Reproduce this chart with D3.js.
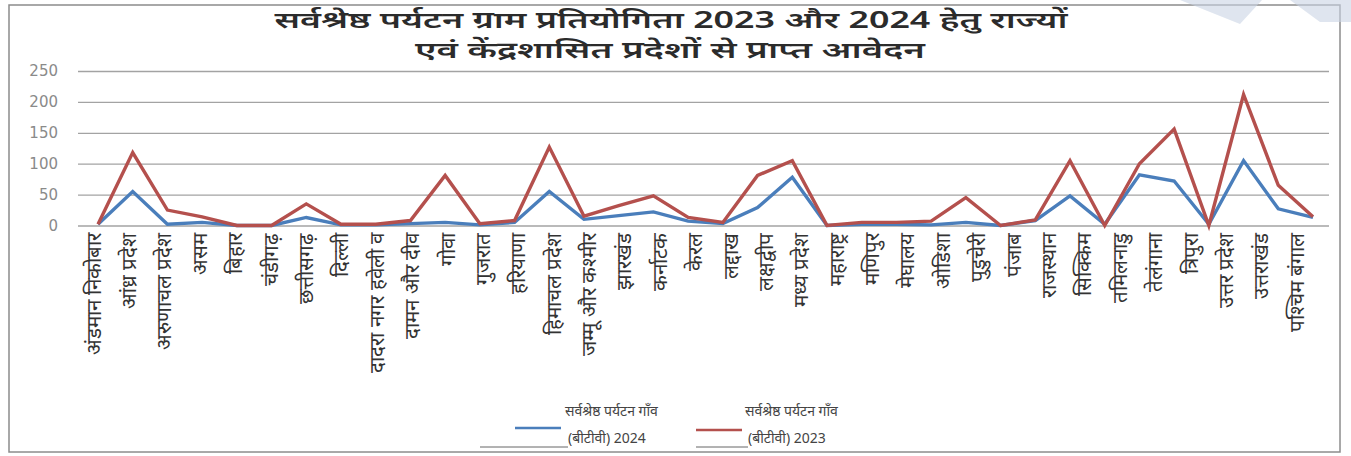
<!DOCTYPE html>
<html>
<head>
<meta charset="utf-8">
<script src="https://cdn.jsdelivr.net/npm/d3@7"></script>
<style>
  body { margin: 0; background: #fff; }
  svg { display: block; font-family: 'Noto Sans', 'Noto Sans Devanagari', 'DejaVu Sans', sans-serif; }
  .y.axis text { fill: #8a8a8a; font-size: 15px; font-family: 'DejaVu Sans', sans-serif; }
  .y.axis line { stroke: #a3a3a3; stroke-width: 1.3; }
  .x.axis text { fill: #333; font-size: 20.5px; }
</style>
</head>
<body>
<div id="graphic"></div>
<script>
// labels as printed under the axis (35 of them)
const states = [
  "अंडमान निकोबार", "आंध्र प्रदेश", "अरुणाचल प्रदेश", "असम", "बिहार", "चंडीगढ़",
  "छत्तीसगढ़", "दिल्ली", "दादरा नगर हवेली व", "दामन और दीव", "गोवा", "गुजरात",
  "हरियाणा", "हिमाचल प्रदेश", "जम्मू और कश्मीर", "झारखंड", "कर्नाटक", "केरल",
  "लद्दाख", "लक्षद्वीप", "मध्य प्रदेश", "महाराष्ट्र", "मणिपुर", "मेघालय",
  "ओडिशा", "पुडुचेरी", "पंजाब", "राजस्थान", "सिक्किम", "तमिलनाडु",
  "तेलंगाना", "त्रिपुरा", "उत्तर प्रदेश", "उत्तराखंड", "पश्चिम बंगाल"
];

// the plotted lines have 36 points
const values2024 = [2, 55, 2, 5, 0, 0, 13, 1, 1, 3, 5, 1, 5, 55, 10, 16, 22, 7, 3, 29, 78, 0,
  2, 2, 1, 5, 0, 8, 48, 2, 82, 72, 2, 105, 27, 13];
const values2023 = [2, 118, 25, 14, 0, 0, 35, 2, 2, 8, 81, 3, 8, 127, 15, 32, 48, 13, 5, 81, 105, 0,
  5, 5, 7, 45, 0, 9, 105, 0, 100, 156, 0, 212, 65, 14];

const yTicks = [0, 50, 100, 150, 200, 250];
const titleLines = [
  "सर्वश्रेष्ठ पर्यटन ग्राम प्रतियोगिता 2023 और 2024 हेतु राज्यों",
  "एवं केंद्रशासित प्रदेशों से प्राप्त आवेदन"
];
const seriesNames = [
  ["सर्वश्रेष्ठ पर्यटन गाँव", "(बीटीवी) 2024"],
  ["सर्वश्रेष्ठ पर्यटन गाँव", "(बीटीवी) 2023"]
];

const width = 1351, height = 456;
const colours = ["#4a7ebb", "#b4504d"];

let svg = d3.select('#graphic').append('svg')
  .attr('width', width)
  .attr('height', height);

// frame
svg.append('rect')
  .attr('x', 9).attr('y', 5)
  .attr('width', 1331).attr('height', 447)
  .attr('fill', 'none')
  .attr('stroke', '#8c8c8c')
  .attr('stroke-width', 1.5);

// faint watermark shape top right
svg.append('path')
  .attr('d', 'M1180,0 L1262,0 L1240,24 Z M1290,0 L1351,0 L1351,22 L1320,22 Z')
  .attr('fill', '#c9d3e4')
  .attr('opacity', 0.6);

const plotLeft = 78, plotRight = 1329;

const y = d3.scaleLinear().domain([0, 250]).range([225.5, 71]);
const x = d3.scalePoint().domain(d3.range(values2024.length)).range([98, 1313]);
const xLabels = d3.scalePoint().domain(states).range([93, 1296]);

// gridlines and y labels
let yAxis = d3.axisLeft(y)
  .tickValues(yTicks)
  .tickSize(-(plotRight - plotLeft))
  .tickPadding(20)
  .tickFormat(d3.format('d'));

svg.append('g')
  .attr('class', 'y axis')
  .attr('transform', 'translate(' + plotLeft + ',0)')
  .call(yAxis)
  .call(g => g.select('.domain').remove());

// category labels
let xAxis = d3.axisBottom(xLabels).tickSize(0);

svg.append('g')
  .attr('class', 'x axis')
  .attr('transform', 'translate(0,' + y(0) + ')')
  .call(xAxis)
  .call(g => g.select('.domain').remove())
  .selectAll('text')
  .attr('transform', 'rotate(-90)')
  .attr('x', -7)
  .attr('y', 0)
  .attr('dy', '0.35em')
  .style('text-anchor', 'end');

// lines
const line = d3.line()
  .x((d, i) => x(i))
  .y(d => y(d));

[values2024, values2023].forEach((vals, k) => {
  svg.append('path')
    .datum(vals)
    .attr('fill', 'none')
    .attr('stroke', colours[k])
    .attr('stroke-width', 3.4)
    .attr('stroke-linejoin', 'miter')
    .attr('d', line);
});

// title
svg.selectAll('.title')
  .data(titleLines)
  .join('text')
  .attr('class', 'title')
  .attr('x', (d, i) => i == 0 ? 671 : 670)
  .attr('y', (d, i) => i == 0 ? 28 : 58)
  .attr('text-anchor', 'middle')
  .attr('textLength', (d, i) => i == 0 ? 793 : 510)
  .attr('lengthAdjust', 'spacingAndGlyphs')
  .attr('font-size', 23)
  .attr('font-weight', 600)
  .attr('fill', '#2b2b2b')
  .text(d => d);

// legend
const legendPos = [{ sx: 515, ly: 428, tx: 565 }, { sx: 696, ly: 430, tx: 745 }];

seriesNames.forEach((names, k) => {
  let p = legendPos[k];
  let g = svg.append('g').attr('class', 'legend');
  g.append('line')
    .attr('x1', p.sx).attr('x2', p.sx + 46)
    .attr('y1', p.ly).attr('y2', p.ly)
    .attr('stroke', colours[k])
    .attr('stroke-width', 2.5);
  g.append('line')
    .attr('x1', k == 0 ? 480 : p.sx).attr('x2', p.tx + 3)
    .attr('y1', 447).attr('y2', 447)
    .attr('stroke', '#666')
    .attr('stroke-width', 1);
  g.selectAll('text')
    .data(names)
    .join('text')
    .attr('x', (d, i) => p.tx + i * 3)
    .attr('y', (d, i) => 416 + i * 27)
    .attr('font-size', 14)
    .attr('fill', '#444')
    .text(d => d);
});
</script>
</body>
</html>
